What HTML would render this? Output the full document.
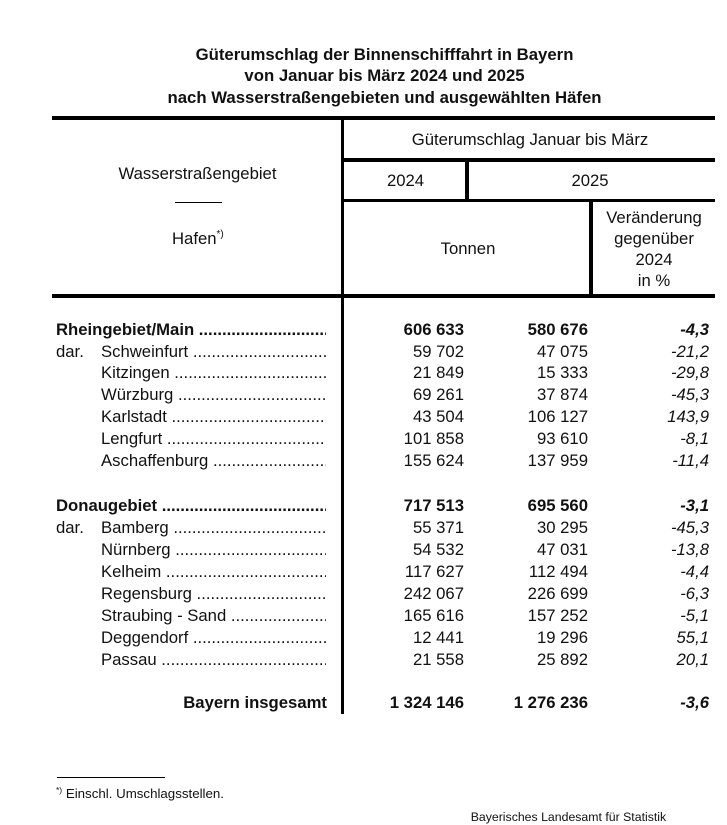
<!DOCTYPE html>
<html>
<head>
<meta charset="utf-8">
<style>
  html,body{margin:0;padding:0;background:#fff;}
  body{width:727px;height:824px;position:relative;overflow:hidden;
       font-family:"Liberation Sans",Arial,sans-serif;color:#111;}
  .abs{position:absolute;}
  .ln{position:absolute;background:#000;}
  .title{position:absolute;left:84.5px;width:600px;top:43.95px;text-align:center;
         font-weight:bold;font-size:16.75px;line-height:21.5px;white-space:nowrap;}
  .h{position:absolute;font-size:16.7px;line-height:22px;text-align:center;white-space:nowrap;}
  .row{position:absolute;left:0;width:727px;height:22px;font-size:16.7px;line-height:22px;white-space:nowrap;}
  .row .dar{position:absolute;left:56px;}
  .row .name{position:absolute;overflow:hidden;white-space:nowrap;}
  .row .c1{position:absolute;right:263px;}
  .row .c2{position:absolute;right:139px;}
  .row .c3{position:absolute;right:18px;font-style:italic;}
  .b{font-weight:bold;}
  sup.s{font-size:10px;vertical-align:0;position:relative;top:-7px;}
</style>
</head>
<body>

<div class="title">Güterumschlag der Binnenschifffahrt in Bayern<br>von Januar bis März 2024 und 2025<br>nach Wasserstraßengebieten und ausgewählten Häfen</div>

<!-- table lines -->
<div class="ln" style="left:52px;top:116.2px;width:663px;height:3.4px;"></div>
<div class="ln" style="left:340.7px;top:116.2px;width:3.8px;height:597.8px;"></div>
<div class="ln" style="left:344px;top:158.4px;width:371px;height:3.5px;"></div>
<div class="ln" style="left:344px;top:198.8px;width:371px;height:3.4px;"></div>
<div class="ln" style="left:465.3px;top:160px;width:3.5px;height:40px;"></div>
<div class="ln" style="left:589.3px;top:200px;width:3.5px;height:96px;"></div>
<div class="ln" style="left:52px;top:294.2px;width:663px;height:3.5px;"></div>
<div class="ln" style="left:175px;top:202px;width:47px;height:1px;"></div>

<!-- header texts -->
<div class="h" style="left:53px;width:289px;top:163.2px;">Wasserstraßengebiet</div>
<div class="h" style="left:172px;top:228.2px;text-align:left;">Hafen<sup class="s">*)</sup></div>
<div class="h" style="left:345px;width:370px;top:128.5px;">Güterumschlag Januar bis März</div>
<div class="h" style="left:345px;width:121px;top:169.9px;">2024</div>
<div class="h" style="left:467px;width:246px;top:169.9px;">2025</div>
<div class="h" style="left:346px;width:244px;top:238.2px;">Tonnen</div>
<div class="h" style="left:593px;width:122px;top:207px;line-height:21px;">Veränderung<br>gegenüber<br>2024<br>in %</div>

<!-- Rheingebiet -->
<div class="row b" style="top:318.7px;"><span class="name" style="left:56px;width:270px;">Rheingebiet/Main ..............................................................</span><span class="c1">606 633</span><span class="c2">580 676</span><span class="c3">-4,3</span></div>
<div class="row" style="top:340.5px;"><span class="dar">dar.</span><span class="name" style="left:101px;width:225px;">Schweinfurt ................................................................</span><span class="c1">59 702</span><span class="c2">47 075</span><span class="c3">-21,2</span></div>
<div class="row" style="top:362.4px;"><span class="name" style="left:101px;width:225px;">Kitzingen ................................................................</span><span class="c1">21 849</span><span class="c2">15 333</span><span class="c3">-29,8</span></div>
<div class="row" style="top:384.2px;"><span class="name" style="left:101px;width:225px;">Würzburg ................................................................</span><span class="c1">69 261</span><span class="c2">37 874</span><span class="c3">-45,3</span></div>
<div class="row" style="top:406.0px;"><span class="name" style="left:101px;width:225px;">Karlstadt ................................................................</span><span class="c1">43 504</span><span class="c2">106 127</span><span class="c3">143,9</span></div>
<div class="row" style="top:427.9px;"><span class="name" style="left:101px;width:225px;">Lengfurt ................................................................</span><span class="c1">101 858</span><span class="c2">93 610</span><span class="c3">-8,1</span></div>
<div class="row" style="top:449.7px;"><span class="name" style="left:101px;width:225px;">Aschaffenburg ................................................................</span><span class="c1">155 624</span><span class="c2">137 959</span><span class="c3">-11,4</span></div>

<!-- Donaugebiet -->
<div class="row b" style="top:494.7px;"><span class="name" style="left:56px;width:270px;">Donaugebiet ..............................................................</span><span class="c1">717 513</span><span class="c2">695 560</span><span class="c3">-3,1</span></div>
<div class="row" style="top:516.7px;"><span class="dar">dar.</span><span class="name" style="left:101px;width:225px;">Bamberg ................................................................</span><span class="c1">55 371</span><span class="c2">30 295</span><span class="c3">-45,3</span></div>
<div class="row" style="top:538.6px;"><span class="name" style="left:101px;width:225px;">Nürnberg ................................................................</span><span class="c1">54 532</span><span class="c2">47 031</span><span class="c3">-13,8</span></div>
<div class="row" style="top:560.6px;"><span class="name" style="left:101px;width:225px;">Kelheim ................................................................</span><span class="c1">117 627</span><span class="c2">112 494</span><span class="c3">-4,4</span></div>
<div class="row" style="top:582.6px;"><span class="name" style="left:101px;width:225px;">Regensburg ................................................................</span><span class="c1">242 067</span><span class="c2">226 699</span><span class="c3">-6,3</span></div>
<div class="row" style="top:604.5px;"><span class="name" style="left:101px;width:225px;">Straubing - Sand ................................................................</span><span class="c1">165 616</span><span class="c2">157 252</span><span class="c3">-5,1</span></div>
<div class="row" style="top:626.5px;"><span class="name" style="left:101px;width:225px;">Deggendorf ................................................................</span><span class="c1">12 441</span><span class="c2">19 296</span><span class="c3">55,1</span></div>
<div class="row" style="top:648.5px;"><span class="name" style="left:101px;width:225px;">Passau ................................................................</span><span class="c1">21 558</span><span class="c2">25 892</span><span class="c3">20,1</span></div>

<!-- Bayern -->
<div class="row b" style="top:692.2px;"><span class="abs" style="right:400px;">Bayern insgesamt</span><span class="c1">1 324 146</span><span class="c2">1 276 236</span><span class="c3">-3,6</span></div>

<!-- footnote -->
<div class="ln" style="left:57px;top:777px;width:108px;height:1px;"></div>
<div class="abs" style="left:56px;top:786px;font-size:13.3px;line-height:16px;white-space:nowrap;"><sup style="font-size:8.5px;vertical-align:0;position:relative;top:-5px;">*)</sup>&nbsp;Einschl. Umschlagsstellen.</div>
<div class="abs" style="left:470.7px;top:810.3px;font-size:12.3px;line-height:15px;white-space:nowrap;">Bayerisches Landesamt für Statistik</div>

</body>
</html>
